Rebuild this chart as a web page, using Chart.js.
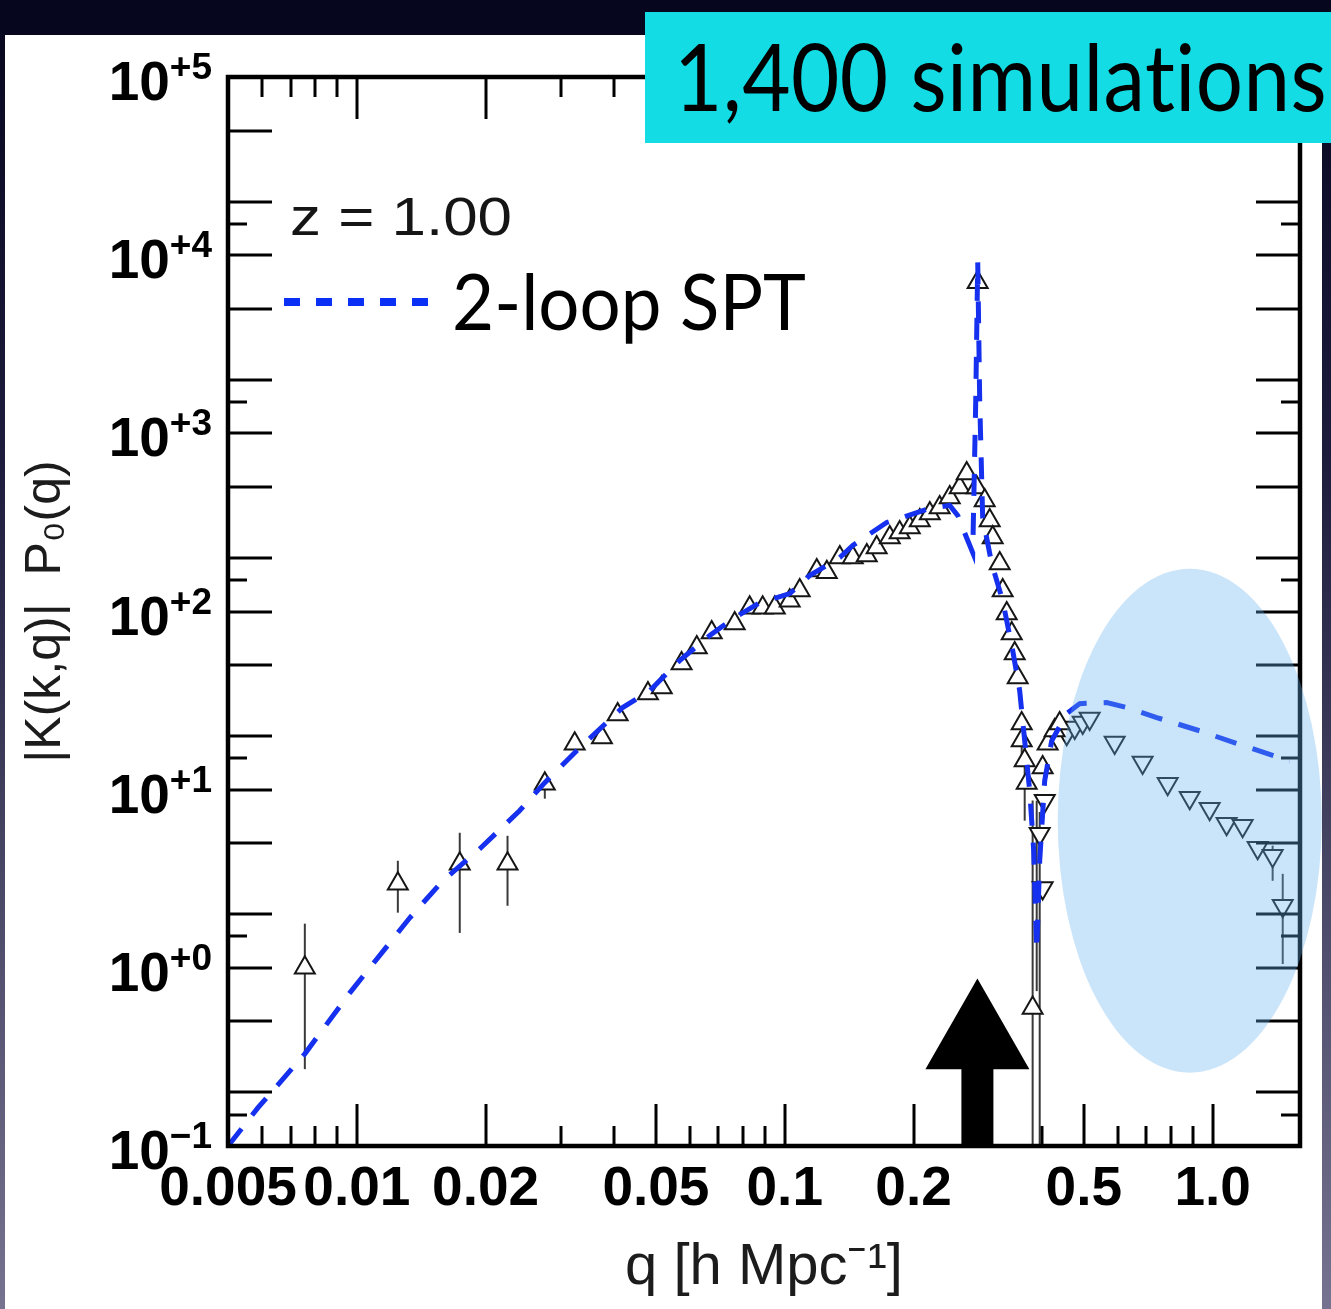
<!DOCTYPE html>
<html>
<head>
<meta charset="utf-8">
<title>|K(k,q)| P0(q), z = 1.00</title>
<script src="https://cdn.jsdelivr.net/npm/chart.js"></script>
<style>
  html, body { margin: 0; padding: 0; background: #070724; }
  canvas { display: block; }
</style>
</head>
<body>
<canvas id="chart" width="1331" height="1309"></canvas>
<script>
// simulation points, K > 0 (up triangles)
const upQ = [0.00756, 0.01247, 0.0174, 0.0225, 0.0275, 0.0323, 0.0374, 0.0407, 0.0479, 0.0516,
  0.0574, 0.0623, 0.0675, 0.0764, 0.0828, 0.0888, 0.0948, 0.1027, 0.1084, 0.1188,
  0.1254, 0.1345, 0.1442, 0.1555, 0.164, 0.176, 0.1856, 0.196, 0.2068, 0.2183,
  0.2302, 0.243, 0.2564, 0.2662, 0.2824, 0.2809, 0.2933, 0.3013, 0.3062, 0.318,
  0.3231, 0.3302, 0.3392, 0.3447, 0.3503, 0.3579, 0.3579, 0.3637, 0.3677, 0.4006,
  0.4115, 0.4273, 0.439, 0.3796];
const upK = [1.0, 2.96, 3.84, 3.84, 10.8, 18.1, 19.6, 26.4, 34.6, 37.4,
  51.0, 62.8, 76.2, 85.6, 105, 105, 105, 115, 131, 170,
  166, 201, 201, 206, 229, 260, 278, 296, 324, 355,
  384, 437, 497, 596, 7050, 497, 420, 324, 260, 186,
  131, 97.4, 75.2, 58.1, 42.6, 23.5, 18.9, 14.6, 10.9, 13.3,
  18.1, 21.5, 23.5, 0.596];

// simulation points, K < 0 (down triangles, |K| plotted)
const downQ = [0.4052, 0.3943, 0.4006, 0.456, 0.4761, 0.497, 0.5159, 0.5902, 0.686, 0.785,
  0.884, 0.984, 1.078, 1.175, 1.274, 1.381, 1.458];
const downK = [8.67, 5.66, 2.81, 20.6, 22.3, 23.8, 25.1, 18.4, 14.2, 10.8,
  9.02, 7.82, 6.44, 6.28, 4.72, 4.26, 2.23];

// error bars
const errQ  = [0.00756, 0.01247, 0.0174, 0.0225, 0.0275, 0.3579, 0.3637, 0.3796, 0.388, 0.3943, 1.381, 1.458];
const errLo = [0.27, 2.04, 1.57, 2.23, 8.9, 14.0, 6.7, 0.01, 0.74, 0.01, 3.08, 1.05];
const errHi = [1.77, 3.99, 5.73, 5.51, 11.7, 26.0, 18.9, 8.7, 8.67, 7.5, 4.85, 3.37];

// 2-loop SPT
const sptQ = [0.005, 0.00587, 0.00756, 0.00963, 0.0133, 0.01588, 0.01939, 0.024, 0.0275, 0.0332,
  0.0418, 0.0484, 0.0568, 0.0668, 0.0764, 0.0874, 0.1027, 0.1143, 0.1345, 0.1442,
  0.1731, 0.2182, 0.243, 0.2537, 0.2648, 0.275, 0.2795, 0.2825, 0.2855, 0.2901,
  0.3045, 0.3231, 0.341, 0.354, 0.3637, 0.3736, 0.3818, 0.388, 0.3943, 0.405,
  0.4206, 0.456, 0.489, 0.5653, 0.63, 0.74, 0.932, 1.175, 1.514];
const sptK = [0.1, 0.1635, 0.329, 0.724, 1.91, 3.08, 4.66, 7.62, 10.95, 17.2,
  28.9, 36.0, 53.0, 73.3, 92.5, 112, 126, 159, 201, 235,
  316, 379, 394, 346, 267, 214, 1531, 9140, 1531, 337,
  186, 115, 60.4, 36.0, 18.8, 9.87, 4.54, 1.25, 3.99, 11.2,
  18.8, 26.7, 30.4, 30.8, 28.9, 25.4, 21.4, 17.7, 14.5];

// axes
const xTickVals = [0.005, 0.01, 0.02, 0.05, 0.1, 0.2, 0.5, 1.0];
const xTickText = ['0.005', '0.01', '0.02', '0.05', '0.1', '0.2', '0.5', '1.0'];
const yTickVals = [0.1, 1, 10, 100, 1000, 10000, 100000];
const yTickExp = ['\u22121', '+0', '+1', '+2', '+3', '+4', '+5'];
const xMinorVals = [0.006, 0.007, 0.008, 0.009, 0.03, 0.04, 0.06, 0.07, 0.08, 0.09, 0.3, 0.4, 0.6, 0.7, 0.8, 0.9];
const xMajorVals = [0.01, 0.02, 0.05, 0.1, 0.2, 0.5, 1.0];

// annotations
const arrowQ = 0.282, arrowTipK = 0.87, arrowNeckK = 0.27;
const blobQ = 0.884, blobK = 6.7;

const pts = (xs, ys) => xs.map((x, i) => ({ x: x, y: ys[i] }));

function fitText(ctx, text, font, left, baseline, width, color, spacing) {
  ctx.save();
  ctx.font = font;
  if (spacing) ctx.letterSpacing = spacing;
  const w = ctx.measureText(text).width;
  ctx.translate(left, baseline);
  ctx.scale(width / w, 1);
  ctx.fillStyle = color;
  ctx.textBaseline = 'alphabetic';
  ctx.textAlign = 'left';
  ctx.fillText(text, 0, 0);
  ctx.restore();
}

const decor = {
  id: 'decor',
  beforeDraw(chart) {
    const ctx = chart.ctx;
    const g = ctx.createLinearGradient(0, 0, 0, chart.height);
    g.addColorStop(0, '#06061e');
    g.addColorStop(0.35, '#1d1c3d');
    g.addColorStop(1, '#75738f');
    ctx.save();
    ctx.fillStyle = g;
    ctx.fillRect(0, 0, chart.width, chart.height);
    ctx.fillStyle = '#06061e';
    ctx.fillRect(0, 0, chart.width, 35);
    ctx.fillStyle = '#ffffff';
    ctx.fillRect(5, 35, 1317, chart.height - 35);
    ctx.restore();
  },
  beforeDatasetsDraw(chart) {
    const ctx = chart.ctx, a = chart.chartArea;
    const xs = chart.scales.x, ys = chart.scales.y;

    // y tick labels: 10 with a raised exponent
    ctx.save();
    ctx.fillStyle = '#000';
    ctx.textBaseline = 'alphabetic';
    const bigFont = 'bold 55px "Liberation Sans", Arial, sans-serif';
    const supFont = 'bold 37px "Liberation Sans", Arial, sans-serif';
    yTickVals.forEach((v, i) => {
      const py = ys.getPixelForValue(v);
      ctx.font = supFont;
      const w2 = ctx.measureText(yTickExp[i]).width;
      ctx.font = bigFont;
      const w1 = ctx.measureText('10').width;
      const x0 = a.left - 16 - w1 - w2;
      ctx.fillText('10', x0, py + 23);
      ctx.font = supFont;
      ctx.fillText(yTickExp[i], x0 + w1, py + 2);
    });
    ctx.restore();

    ctx.save();
    ctx.beginPath();
    ctx.rect(a.left, a.top, a.right - a.left, a.bottom - a.top);
    ctx.clip();
    ctx.strokeStyle = '#3a3a3a';
    ctx.lineWidth = 2;
    errQ.forEach((q, i) => {
      const px = xs.getPixelForValue(q);
      ctx.beginPath();
      ctx.moveTo(px, ys.getPixelForValue(errHi[i]));
      ctx.lineTo(px, ys.getPixelForValue(errLo[i]));
      ctx.stroke();
    });
    ctx.restore();
  },
  afterDatasetsDraw(chart) {
    const ctx = chart.ctx, a = chart.chartArea;
    const xs = chart.scales.x, ys = chart.scales.y;
    ctx.save();

    // inward tick marks on all four sides
    ctx.strokeStyle = '#000';
    ctx.lineWidth = 3;
    const xMarks = xMajorVals.map(v => [v, 42]).concat(xMinorVals.map(v => [v, 20]));
    xMarks.forEach(([v, len]) => {
      const px = Math.round(xs.getPixelForValue(v));
      ctx.beginPath();
      ctx.moveTo(px, a.bottom); ctx.lineTo(px, a.bottom - len);
      ctx.moveTo(px, a.top); ctx.lineTo(px, a.top + len);
      ctx.stroke();
    });
    const yMarks = [];
    for (let n = -1; n <= 4; n++) {
      const d = Math.pow(10, n);
      yMarks.push([d, 44], [1.5 * d, 19], [2 * d, 44], [5 * d, 44]);
    }
    yMarks.forEach(([v, len]) => {
      const py = Math.round(ys.getPixelForValue(v));
      ctx.beginPath();
      ctx.moveTo(a.left, py); ctx.lineTo(a.left + len, py);
      ctx.moveTo(a.right, py); ctx.lineTo(a.right - len, py);
      ctx.stroke();
    });

    // frame
    ctx.lineWidth = 4.5;
    ctx.strokeRect(a.left, a.top, a.right - a.left, a.bottom - a.top);

    // k arrow
    const ax = xs.getPixelForValue(arrowQ);
    const tip = ys.getPixelForValue(arrowTipK);
    const neck = ys.getPixelForValue(arrowNeckK);
    ctx.fillStyle = '#000';
    ctx.beginPath();
    ctx.moveTo(ax, tip);
    ctx.lineTo(ax + 52, neck);
    ctx.lineTo(ax + 16, neck);
    ctx.lineTo(ax + 16, a.bottom);
    ctx.lineTo(ax - 16, a.bottom);
    ctx.lineTo(ax - 16, neck);
    ctx.lineTo(ax - 52, neck);
    ctx.closePath();
    ctx.fill();

    // highlight of the sign-flipped region
    ctx.fillStyle = 'rgba(100, 175, 240, 0.34)';
    ctx.beginPath();
    ctx.ellipse(xs.getPixelForValue(blobQ), ys.getPixelForValue(blobK), 132, 252, 0, 0, Math.PI * 2);
    ctx.fill();

    // legend
    fitText(ctx, 'z = 1.00', '53px "Liberation Sans", Arial, sans-serif', a.left + 62, 235, 222, '#151515');
    ctx.strokeStyle = '#0a30f5';
    ctx.lineWidth = 8;
    ctx.setLineDash([16, 16]);
    ctx.beginPath();
    ctx.moveTo(a.left + 56, 302);
    ctx.lineTo(a.left + 202, 302);
    ctx.stroke();
    ctx.setLineDash([]);
    fitText(ctx, '2-loop SPT', '77px Lato, "Open Sans", sans-serif', 452, 330, 354, '#000');

    // banner
    ctx.fillStyle = '#13dce5';
    ctx.fillRect(645, 12, chart.width - 645, 131);
    fitText(ctx, '1,400 simulations', '94px Lato, "Open Sans", sans-serif', 674, 111, 653, '#000', '0.5px');

    ctx.restore();
  }
};

new Chart(document.getElementById('chart'), {
  type: 'scatter',
  data: {
    datasets: [
      {
        label: '2-loop SPT',
        data: pts(sptQ, sptK),
        showLine: true,
        borderColor: '#1530ee',
        borderWidth: 5,
        borderDash: [22, 17],
        pointRadius: 0,
        tension: 0
      },
      {
        label: 'K > 0',
        data: pts(upQ, upK),
        pointStyle: 'triangle',
        pointRadius: 11.5,
        pointBorderWidth: 2,
        pointBorderColor: '#161616',
        pointBackgroundColor: '#ffffff'
      },
      {
        label: 'K < 0',
        data: pts(downQ, downK),
        pointStyle: 'triangle',
        pointRotation: 180,
        pointRadius: 11.5,
        pointBorderWidth: 2,
        pointBorderColor: '#161616',
        pointBackgroundColor: '#ffffff'
      }
    ]
  },
  options: {
    responsive: false,
    devicePixelRatio: 1,
    animation: false,
    events: [],
    layout: { padding: { left: 0, top: 77, right: 31, bottom: 0 } },
    plugins: { legend: { display: false }, tooltip: { enabled: false } },
    scales: {
      x: {
        type: 'logarithmic',
        min: 0.005,
        max: 1.6,
        afterFit(s) { s.height = 163; },
        afterBuildTicks(s) { s.ticks = xTickVals.map(v => ({ value: v })); },
        grid: { display: false, drawTicks: false },
        border: { display: false },
        ticks: {
          autoSkip: false,
          maxRotation: 0,
          minRotation: 0,
          padding: 11,
          color: '#000',
          font: { family: '"Liberation Sans", Arial, sans-serif', size: 55, weight: 'bold' },
          callback: (v, i) => xTickText[i]
        },
        title: {
          display: true,
          text: 'q [h Mpc\u207B\u00B9]',
          color: '#1c1c1c',
          padding: { top: 0, bottom: 6 },
          font: { family: '"Liberation Sans", Arial, sans-serif', size: 58, weight: 'normal' }
        }
      },
      y: {
        type: 'logarithmic',
        min: 0.1,
        max: 100000,
        afterFit(s) { s.width = 228; },
        afterBuildTicks(s) { s.ticks = yTickVals.map(v => ({ value: v })); },
        grid: { display: false, drawTicks: false },
        border: { display: false },
        ticks: { display: false },
        title: {
          display: true,
          text: '|K(k,q)|  P\u2080(q)',
          color: '#1c1c1c',
          padding: { top: 16, bottom: 0 },
          font: { family: '"Liberation Sans", Arial, sans-serif', size: 50, weight: 'normal' }
        }
      }
    }
  },
  plugins: [decor]
});
</script>
</body>
</html>
